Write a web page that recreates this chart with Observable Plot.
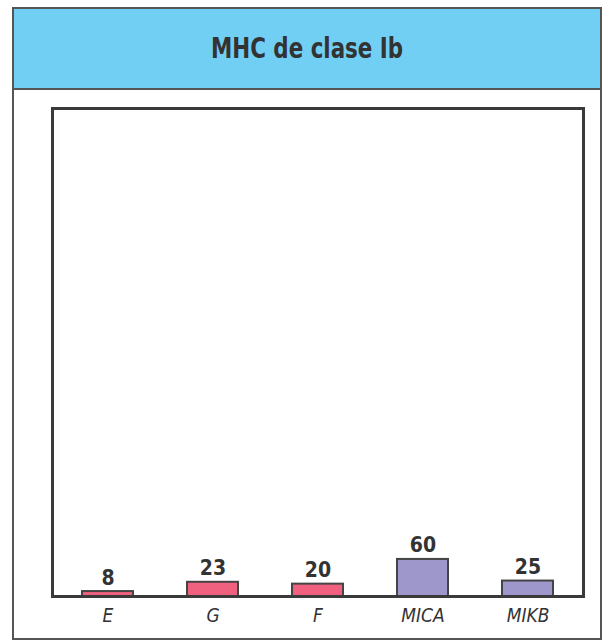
<!DOCTYPE html>
<html><head><meta charset="utf-8">
<script src="https://cdn.jsdelivr.net/npm/d3@7"></script>
<script src="https://cdn.jsdelivr.net/npm/@observablehq/plot@0.6"></script>
<style>
body{margin:0;background:#fff;font-family:"DejaVu Sans Condensed","Liberation Sans",sans-serif;}
#box{position:absolute;left:12px;top:7px;width:590px;height:633px;box-sizing:border-box;border:2px solid #555;}
#head{height:79px;background:#72cff4;border-bottom:2px solid #555;display:flex;align-items:center;justify-content:center;}
#title{font-weight:bold;font-size:28px;color:#333;display:inline-block;transform:scaleX(0.85);}
#chart svg{display:block;}
</style></head><body>
<div id="box"><div id="head"><span id="title">MHC de clase Ib</span></div><div id="chart"></div></div>
<script>
const genes = ["E","G","F","MICA","MIKB"];
const values = [8,23,20,60,25];
const groups = ["clasico","clasico","clasico","mic","mic"];
const data = genes.map((g,i)=>({gene:g,value:values[i],group:groups[i]}));
const plot = Plot.plot({
  width:586, height:548,
  marginLeft:38, marginRight:17, marginTop:18, marginBottom:42,
  style:{fontFamily:'"DejaVu Sans Condensed","Liberation Sans",sans-serif',background:"#fff"},
  x:{domain:genes,paddingInner:0.51,paddingOuter:0.26,label:null},
  y:{domain:[0,790],axis:null},
  color:{domain:["clasico","mic"],range:["#f0607f","#9e97cc"]},
  marks:[
    Plot.barY(data,{x:"gene",y:"value",fill:"group",stroke:"#444",strokeWidth:2}),
    Plot.text(data,{x:"gene",y:"value",text:d=>String(d.value),lineAnchor:"bottom",dy:-7,fontSize:21,fontWeight:"bold",fill:"#333"}),
    Plot.axisX({tickSize:0,tickPadding:12,fontSize:19,fontStyle:"italic",fill:"#333",label:null}),
    Plot.frame({stroke:"#3a3a3a",strokeWidth:3})
  ]
});
document.getElementById("chart").append(plot);
</script>
</body></html>
